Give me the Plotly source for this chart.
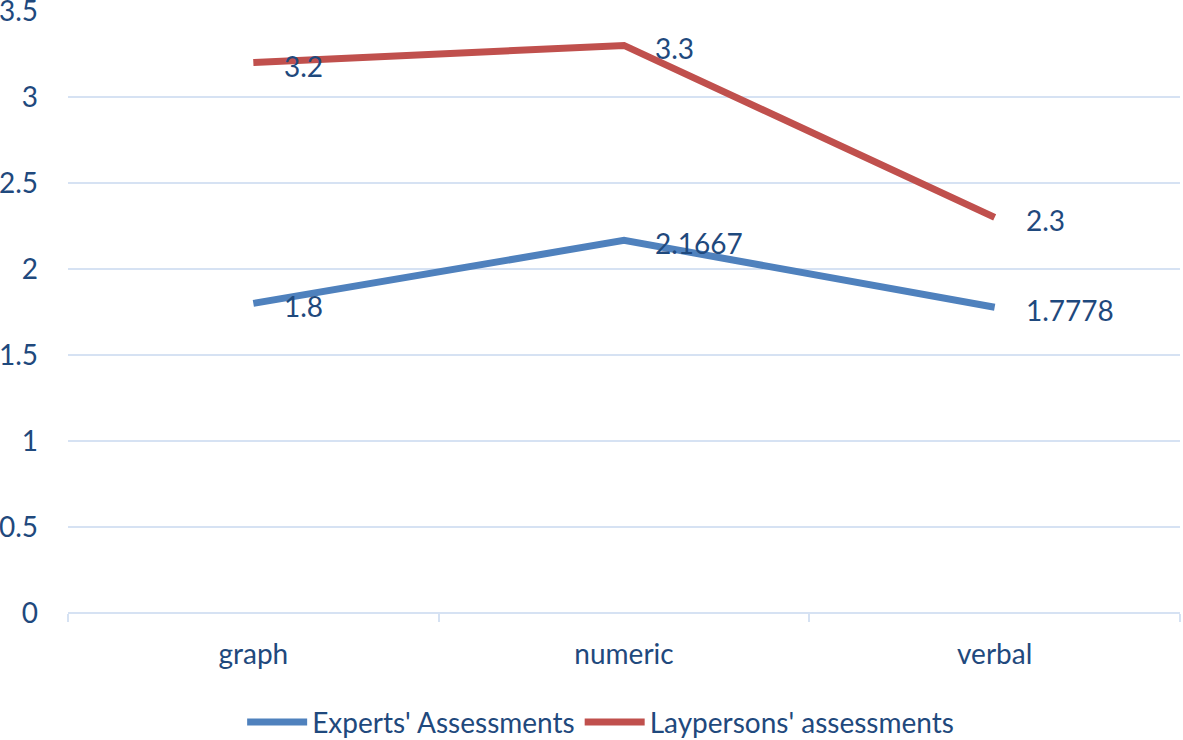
import plotly.graph_objects as go

categories = ["graph", "numeric", "verbal"]
experts = [1.8, 2.1667, 1.7778]
laypersons = [3.2, 3.3, 2.3]
series_names = ["Experts' Assessments", "Laypersons' assessments"]
y_ticks = [0, 0.5, 1, 1.5, 2, 2.5, 3, 3.5]
y_tick_labels = ["0", "0.5", "1", "1.5", "2", "2.5", "3", "3.5"]

TEXT = "#1F497D"
GRID = "#D6E2F3"
FONT = "Lato"
FS = 28

fig = go.Figure()
fig.add_trace(go.Scatter(x=categories, y=experts, mode="lines", name=series_names[0],
                         line=dict(color="#4F81BD", width=7)))
fig.add_trace(go.Scatter(x=categories, y=laypersons, mode="lines", name=series_names[1],
                         line=dict(color="#C0504D", width=7)))

for vals in (experts, laypersons):
    for c, v in zip(categories, vals):
        fig.add_annotation(x=c, y=v, text=f"{v:g}", showarrow=False,
                           xanchor="left", yanchor="middle", xshift=29, yshift=-3,
                           font=dict(family=FONT, size=FS, color=TEXT))

fig.update_layout(
    width=1183, height=740,
    margin=dict(l=68, r=3, t=11, b=127, autoexpand=False),
    paper_bgcolor="white", plot_bgcolor="white",
    font=dict(family=FONT, size=FS, color=TEXT),
    showlegend=True,
    legend=dict(orientation="h", x=0.479, xanchor="center", y=-0.14, yanchor="top",
                font=dict(family=FONT, size=FS, color=TEXT), itemwidth=60,
                tracegroupgap=0),
)
fig.update_xaxes(type="category", range=[-0.5, 2.5], showgrid=False, ticks="outside",
                 tickson="boundaries", ticklen=8, tickcolor=GRID, tickwidth=2, showline=False,
                 automargin=False,
                 tickfont=dict(family=FONT, size=FS, color=TEXT), ticklabelstandoff=22)
fig.update_yaxes(range=[0, 3.5001], tickvals=y_ticks, ticktext=y_tick_labels,
                 showgrid=True, gridcolor=GRID, gridwidth=2, zeroline=True,
                 zerolinecolor=GRID, zerolinewidth=2, showline=False,
                 automargin=False, ticklabeloverflow="allow",
                 tickfont=dict(family=FONT, size=FS, color=TEXT), ticklabelstandoff=29)

# remove the default 8px page margin so the figure fills the window exactly
fig.write_html("out.html", config={"displayModeBar": False},
               post_script="document.body.style.margin='0';")
